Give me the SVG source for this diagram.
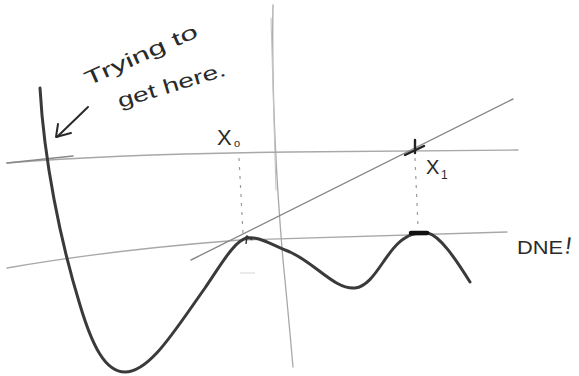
<svg xmlns="http://www.w3.org/2000/svg" width="579" height="376" viewBox="0 0 579 376">
<defs>
<style>
.axis{fill:none;stroke:#a8a8a8;stroke-width:1.3;stroke-linecap:round}
.faint{fill:none;stroke:#c4c4c4;stroke-width:1.1;stroke-linecap:round}
.tan{fill:none;stroke:#8a8a8a;stroke-width:1.4;stroke-linecap:round}
.curve{fill:none;stroke:#3a3a3a;stroke-width:3;stroke-linecap:round;stroke-linejoin:round}
.dash{fill:none;stroke:#9a9a9a;stroke-width:1.2;stroke-dasharray:3 6}
.ink{fill:none;stroke:#2a2a2a;stroke-width:2;stroke-linecap:round;stroke-linejoin:round}
.hand{font-family:"Liberation Sans","DejaVu Sans",sans-serif;fill:#2a2a2a}
</style>
</defs>
<rect width="579" height="376" fill="#ffffff"/>
<g id="axes">
<path class="axis" d="M273,5 Q271,120 283,260 Q288,310 293,367"/>
<path class="faint" d="M271,18 L276,190"/>
<path class="axis" d="M7,163 Q120,154 290,152 L518,150"/>
<path d="M7,163 L73,156" fill="none" stroke="#888" stroke-width="1.6" stroke-linecap="round"/>
<path class="axis" d="M7,268 Q110,250 240,240 L507,232"/>
</g>
<g id="connectors">
<path class="tan" d="M191,260 L513,99"/>
<path class="dash" d="M239,158 L243,234"/>
<path class="dash" d="M415,158 L418,226"/>
<path class="ink" d="M88,107 L57,137"/>
<path class="ink" d="M58,124 L56,137 L71,133"/>
</g>
<g id="curve">
<path class="curve" d="M40,88 C44,160 60,240 80,305 C92,345 105,372 125,372 C150,372 175,330 205,288 C222,263 235,240 247,238 C258,236 270,244 290,252 C315,263 335,290 355,288 C375,286 385,250 405,238 C412,233 420,232 428,233 C440,236 455,258 470,282"/>
<path d="M411,233 L427,233" stroke="#111" stroke-width="4.5" stroke-linecap="round" fill="none"/>
<path d="M242,241 L247,236 L252,240 M247,236 L246,244" stroke="#333" stroke-width="1.4" fill="none"/>
<path d="M415,140 L415,153 M405,155 L424,146" stroke="#222" stroke-width="2.4" stroke-linecap="round" fill="none"/>
<path d="M240,273 L255,273" stroke="#ddd" stroke-width="1.2" fill="none"/>
</g>
<g id="label-trying">
<text class="hand" x="88" y="86" font-size="20" transform="rotate(-24 88 86)" textLength="122" lengthAdjust="spacingAndGlyphs">Trying to</text>
<text class="hand" x="120" y="108" font-size="20" transform="rotate(-17 120 108)" textLength="112" lengthAdjust="spacingAndGlyphs">get here.</text>
</g>
<g id="label-x0">
<text class="hand" x="217" y="145" font-size="22">X</text>
<text class="hand" x="234" y="147" font-size="11">o</text>
</g>
<g id="label-x1">
<text class="hand" x="426" y="174" font-size="20">X</text>
<text class="hand" x="441" y="179" font-size="12">1</text>
</g>
<g id="label-dne">
<text class="hand" x="517" y="254" font-size="19" textLength="46" lengthAdjust="spacingAndGlyphs">DNE</text>
<text class="hand" x="566" y="254" font-size="24" transform="rotate(8 570 240)">!</text>
</g>
</svg>
